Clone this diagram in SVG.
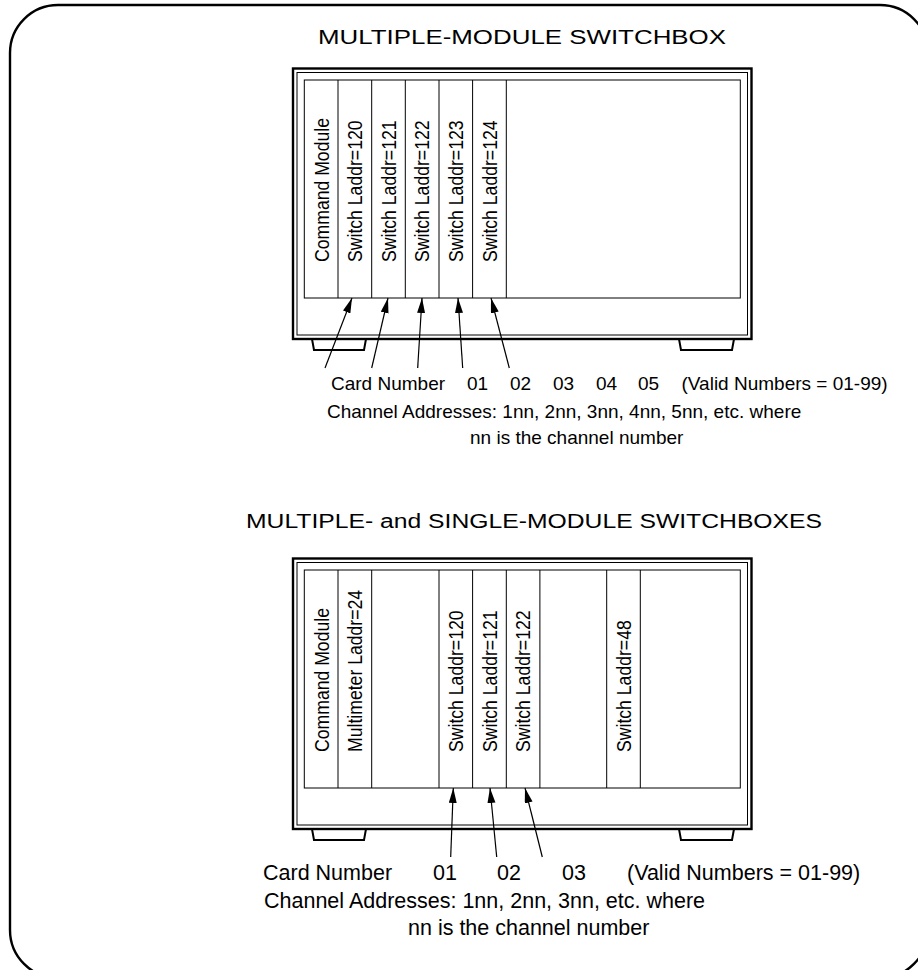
<svg xmlns="http://www.w3.org/2000/svg" width="918" height="970" viewBox="0 0 918 970">
<style>
.t{font-family:"Liberation Sans",Arial,sans-serif;font-size:19px;fill:#000}
.b{font-family:"Liberation Sans",Arial,sans-serif;font-size:21.5px;fill:#000}
.h{font-family:"Liberation Sans",Arial,sans-serif;font-size:20px;fill:#000}
.v{font-family:"Liberation Sans",Arial,sans-serif;font-size:20.5px;fill:#000}
.thick{fill:none;stroke:#000;stroke-width:2.4}
.thin{fill:none;stroke:#000;stroke-width:1}
.panel{fill:#fff;stroke:#000;stroke-width:1}
.div{stroke:#000;stroke-width:1}
.foot{fill:none;stroke:#000;stroke-width:2}
.arr{stroke:#000;stroke-width:1.2;fill:none;marker-end:url(#ah)}
</style>
<defs>
<marker id="ah" markerUnits="userSpaceOnUse" markerWidth="16" markerHeight="9" refX="15" refY="4" orient="auto">
<path d="M0,0 L15,4 L0,8 z" fill="#000"/>
</marker>
</defs>
<rect width="918" height="970" fill="#fff"/>
<rect id="border" x="10" y="5" width="918" height="973" rx="48" ry="48" fill="none" stroke="#000" stroke-width="2.4"/>

<g id="top-switchbox">
<text class="h" x="318" y="44" textLength="408" lengthAdjust="spacingAndGlyphs">MULTIPLE-MODULE SWITCHBOX</text>
<rect class="thick" x="293" y="68.5" width="458.5" height="270.5"/>
<rect class="thin" x="297" y="72.5" width="450.5" height="262.5"/>
<rect class="panel" x="304.3" y="80" width="436" height="218"/>
<path class="foot" d="M312,339 L314,350 L364,350 L366,339 M679,339 L681,350 L732,350 L734,339"/>
<g class="div">
<line x1="338" y1="80" x2="338" y2="298"/>
<line x1="371.7" y1="80" x2="371.7" y2="298"/>
<line x1="405.3" y1="80" x2="405.3" y2="298"/>
<line x1="439" y1="80" x2="439" y2="298"/>
<line x1="472.6" y1="80" x2="472.6" y2="298"/>
<line x1="506.3" y1="80" x2="506.3" y2="298"/>
</g>
<text class="v" transform="translate(328.6,262) rotate(-90) scale(0.86,1)">Command Module</text>
<text class="v" transform="translate(362.2,262) rotate(-90) scale(0.86,1)">Switch Laddr=120</text>
<text class="v" transform="translate(395.8,262) rotate(-90) scale(0.86,1)">Switch Laddr=121</text>
<text class="v" transform="translate(429.4,262) rotate(-90) scale(0.86,1)">Switch Laddr=122</text>
<text class="v" transform="translate(463,262) rotate(-90) scale(0.86,1)">Switch Laddr=123</text>
<text class="v" transform="translate(496.6,262) rotate(-90) scale(0.86,1)">Switch Laddr=124</text>
<text class="t" y="390"><tspan x="331">Card Number</tspan><tspan x="467">01</tspan><tspan x="510">02</tspan><tspan x="553">03</tspan><tspan x="596">04</tspan><tspan x="638">05</tspan><tspan x="681.5">(Valid Numbers = 01-99)</tspan></text>
<text class="t" x="327" y="418">Channel Addresses: 1nn, 2nn, 3nn, 4nn, 5nn, etc. where</text>
<text class="t" x="470" y="444">nn is the channel number</text>
</g>

<g id="bottom-switchbox">
<text class="h" x="246" y="528" textLength="576" lengthAdjust="spacingAndGlyphs">MULTIPLE- and SINGLE-MODULE SWITCHBOXES</text>
<rect class="thick" x="293" y="558.5" width="458.5" height="270.5"/>
<rect class="thin" x="297" y="562.5" width="450.5" height="262.5"/>
<rect class="panel" x="304.3" y="570" width="436" height="218"/>
<path class="foot" d="M312,829 L314,840 L364,840 L366,829 M679,829 L681,840 L732,840 L734,829"/>
<g class="div">
<line x1="338" y1="570" x2="338" y2="788"/>
<line x1="371.7" y1="570" x2="371.7" y2="788"/>
<line x1="439" y1="570" x2="439" y2="788"/>
<line x1="472.6" y1="570" x2="472.6" y2="788"/>
<line x1="506.3" y1="570" x2="506.3" y2="788"/>
<line x1="539.9" y1="570" x2="539.9" y2="788"/>
<line x1="606.7" y1="570" x2="606.7" y2="788"/>
<line x1="640.3" y1="570" x2="640.3" y2="788"/>
</g>
<text class="v" transform="translate(328.6,752) rotate(-90) scale(0.86,1)">Command Module</text>
<text class="v" transform="translate(362.2,752) rotate(-90) scale(0.86,1)">Multimeter Laddr=24</text>
<text class="v" transform="translate(463,752) rotate(-90) scale(0.86,1)">Switch Laddr=120</text>
<text class="v" transform="translate(496.6,752) rotate(-90) scale(0.86,1)">Switch Laddr=121</text>
<text class="v" transform="translate(530.2,752) rotate(-90) scale(0.86,1)">Switch Laddr=122</text>
<text class="v" transform="translate(631,752) rotate(-90) scale(0.86,1)">Switch Laddr=48</text>
<text class="b" y="880"><tspan x="263">Card Number</tspan><tspan x="433">01</tspan><tspan x="497">02</tspan><tspan x="562">03</tspan><tspan x="627">(Valid Numbers = 01-99)</tspan></text>
<text class="b" x="264" y="908">Channel Addresses: 1nn, 2nn, 3nn, etc. where</text>
<text class="b" x="408" y="935">nn is the channel number</text>
</g>

<g id="connectors">
<line class="arr" x1="325" y1="368" x2="352" y2="298"/>
<line class="arr" x1="371.7" y1="368" x2="388" y2="298"/>
<line class="arr" x1="417.7" y1="368" x2="422" y2="298"/>
<line class="arr" x1="462.7" y1="368" x2="458" y2="298"/>
<line class="arr" x1="509.3" y1="368" x2="491" y2="298"/>
<line class="arr" x1="450.7" y1="857" x2="453.3" y2="788"/>
<line class="arr" x1="496.7" y1="857" x2="490" y2="788"/>
<line class="arr" x1="542.3" y1="857" x2="525" y2="788"/>
</g>
</svg>
